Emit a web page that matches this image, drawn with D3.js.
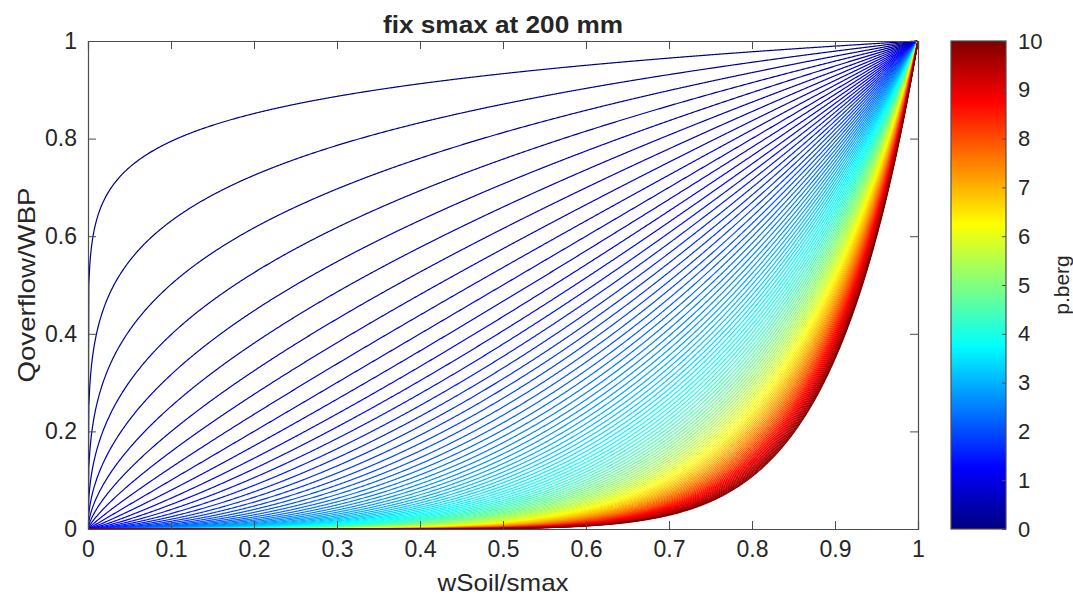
<!DOCTYPE html>
<html>
<head>
<meta charset="utf-8">
<script src="https://cdn.jsdelivr.net/npm/d3@7"></script>
<style>
  body { margin: 0; background: #fff; }
  text { font-family: "Liberation Sans", Arial, Helvetica, sans-serif; fill: #262626; }
</style>
</head>
<body>
<script>
// exponent values of the curves y = x^p (p.berg)
var pValues = [0.1, 0.2, 0.3, 0.4, 0.5, 0.6, 0.7, 0.8, 0.9, 1.0,
  1.1, 1.2, 1.3, 1.4, 1.5, 1.6, 1.7, 1.8, 1.9, 2.0,
  2.1, 2.2, 2.3, 2.4, 2.5, 2.6, 2.7, 2.8, 2.9, 3.0,
  3.1, 3.2, 3.3, 3.4, 3.5, 3.6, 3.7, 3.8, 3.9, 4.0,
  4.1, 4.2, 4.3, 4.4, 4.5, 4.6, 4.7, 4.8, 4.9, 5.0,
  5.1, 5.2, 5.3, 5.4, 5.5, 5.6, 5.7, 5.8, 5.9, 6.0,
  6.1, 6.2, 6.3, 6.4, 6.5, 6.6, 6.7, 6.8, 6.9, 7.0,
  7.1, 7.2, 7.3, 7.4, 7.5, 7.6, 7.7, 7.8, 7.9, 8.0,
  8.1, 8.2, 8.3, 8.4, 8.5, 8.6, 8.7, 8.8, 8.9, 9.0,
  9.1, 9.2, 9.3, 9.4, 9.5, 9.6, 9.7, 9.8, 9.9, 10.0];
var xTicks = [0, 0.1, 0.2, 0.3, 0.4, 0.5, 0.6, 0.7, 0.8, 0.9, 1];
var yTicks = [0, 0.2, 0.4, 0.6, 0.8, 1];
var cTicks = [0, 1, 2, 3, 4, 5, 6, 7, 8, 9, 10];
var titleText = "fix smax at 200 mm";
var xLabel = "wSoil/smax";
var yLabel = "Qoverflow/WBP";
var cLabel = "p.berg";

(function () {
  var W = 1073, H = 597;
  var mLeft = 88, mRight = 918, mTop = 41, mBottom = 529;
  var cbLeft = 951, cbRight = 1006;

  // sample grid along wSoil/smax (step 0.001)
  var xs = d3.range(0, 1001).map(function (i) { return i / 1000; });

  function jet(t) {
    t = Math.max(0, Math.min(1, t));
    function c(v) { return Math.round(255 * Math.max(0, Math.min(1, v))); }
    return "rgb(" + c(1.5 - Math.abs(4 * t - 3)) + "," + c(1.5 - Math.abs(4 * t - 2)) + "," + c(1.5 - Math.abs(4 * t - 1)) + ")";
  }

  var x = d3.scaleLinear().domain([0, 1]).range([mLeft, mRight]);
  var y = d3.scaleLinear().domain([0, 1]).range([mBottom, mTop]);
  var c = d3.scaleLinear().domain([0, 10]).range([mBottom, mTop]);

  var svg = d3.select("body").append("svg")
    .attr("width", W)
    .attr("height", H);

  svg.append("clipPath")
    .attr("id", "clip")
    .append("rect")
    .attr("x", mLeft).attr("y", mTop - 1)
    .attr("width", mRight - mLeft).attr("height", mBottom - mTop + 2);

  var line = d3.line()
    .x(function (d) { return x(d[0]); })
    .y(function (d) { return y(d[1]); });

  svg.append("g")
    .attr("clip-path", "url(#clip)")
    .selectAll("path")
    .data(pValues)
    .enter()
    .append("path")
    .attr("d", function (p) { return line(xs.map(function (v) { return [v, Math.pow(v, p)]; })); })
    .attr("fill", "none")
    .attr("stroke", function (p) { return jet(p / 10); })
    .attr("stroke-width", 1.2);

  // axes box with inward ticks on all sides
  var axColor = "#4d4d4d";
  var fmt = function (d) { return d3.format("")(d); };
  var xAxis = d3.axisBottom(x).tickValues(xTicks).tickSize(-8).tickPadding(10).tickFormat(fmt);
  var yAxis = d3.axisLeft(y).tickValues(yTicks).tickSize(-8).tickPadding(11).tickFormat(fmt);

  var gx = svg.append("g").attr("transform", "translate(0," + mBottom + ")").call(xAxis);
  var gy = svg.append("g").attr("transform", "translate(" + mLeft + ",0)").call(yAxis);
  var gxt = svg.append("g").attr("transform", "translate(0," + mTop + ")")
    .call(d3.axisTop(x).tickValues(xTicks).tickSize(-8).tickFormat(""));
  var gyr = svg.append("g").attr("transform", "translate(" + mRight + ",0)")
    .call(d3.axisRight(y).tickValues(yTicks).tickSize(-8).tickFormat(""));

  [gx, gy, gxt, gyr].forEach(function (g) {
    g.select(".domain").attr("stroke", axColor).attr("stroke-width", 1.2);
    g.selectAll(".tick line").attr("stroke", axColor).attr("stroke-width", 1);
    g.selectAll(".tick text").attr("font-size", 23).attr("fill", "#262626")
      .attr("font-family", "Liberation Sans, Arial, sans-serif");
  });
  gx.selectAll(".tick text").attr("dy", "0.8em");

  // colorbar
  var defs = svg.append("defs");
  var grad = defs.append("linearGradient")
    .attr("id", "jetgrad")
    .attr("x1", 0).attr("y1", 1).attr("x2", 0).attr("y2", 0);
  d3.range(0, 65).forEach(function (i) {
    grad.append("stop").attr("offset", i / 64).attr("stop-color", jet(i / 64));
  });
  svg.append("rect")
    .attr("x", cbLeft).attr("y", c(10))
    .attr("width", cbRight - cbLeft).attr("height", c(0) - c(10))
    .attr("fill", "url(#jetgrad)")
    .attr("stroke", axColor).attr("stroke-width", 1.2);

  var gc = svg.append("g").attr("transform", "translate(" + cbRight + ",0)")
    .call(d3.axisRight(c).tickValues(cTicks).tickSize(-4).tickPadding(12));
  gc.select(".domain").remove();
  gc.selectAll(".tick line").attr("stroke", axColor);
  gc.selectAll(".tick text").attr("font-size", 22).attr("fill", "#262626")
    .attr("font-family", "Liberation Sans, Arial, sans-serif");

  // labels
  svg.append("text")
    .attr("x", (mLeft + mRight) / 2).attr("y", 33)
    .attr("text-anchor", "middle")
    .attr("font-size", 23).attr("font-weight", "bold")
    .attr("fill", "#000")
    .attr("textLength", 240).attr("lengthAdjust", "spacingAndGlyphs")
    .text(titleText);

  svg.append("text")
    .attr("x", (mLeft + mRight) / 2).attr("y", 591)
    .attr("text-anchor", "middle")
    .attr("font-size", 24)
    .attr("textLength", 131).attr("lengthAdjust", "spacingAndGlyphs")
    .text(xLabel);

  svg.append("text")
    .attr("transform", "translate(35," + ((mTop + mBottom) / 2) + ") rotate(-90)")
    .attr("text-anchor", "middle")
    .attr("font-size", 24)
    .attr("textLength", 195).attr("lengthAdjust", "spacingAndGlyphs")
    .text(yLabel);

  svg.append("text")
    .attr("transform", "translate(1069," + ((mTop + mBottom) / 2) + ") rotate(-90)")
    .attr("text-anchor", "middle")
    .attr("font-size", 21)
    .text(cLabel);
})();
</script>
</body>
</html>
